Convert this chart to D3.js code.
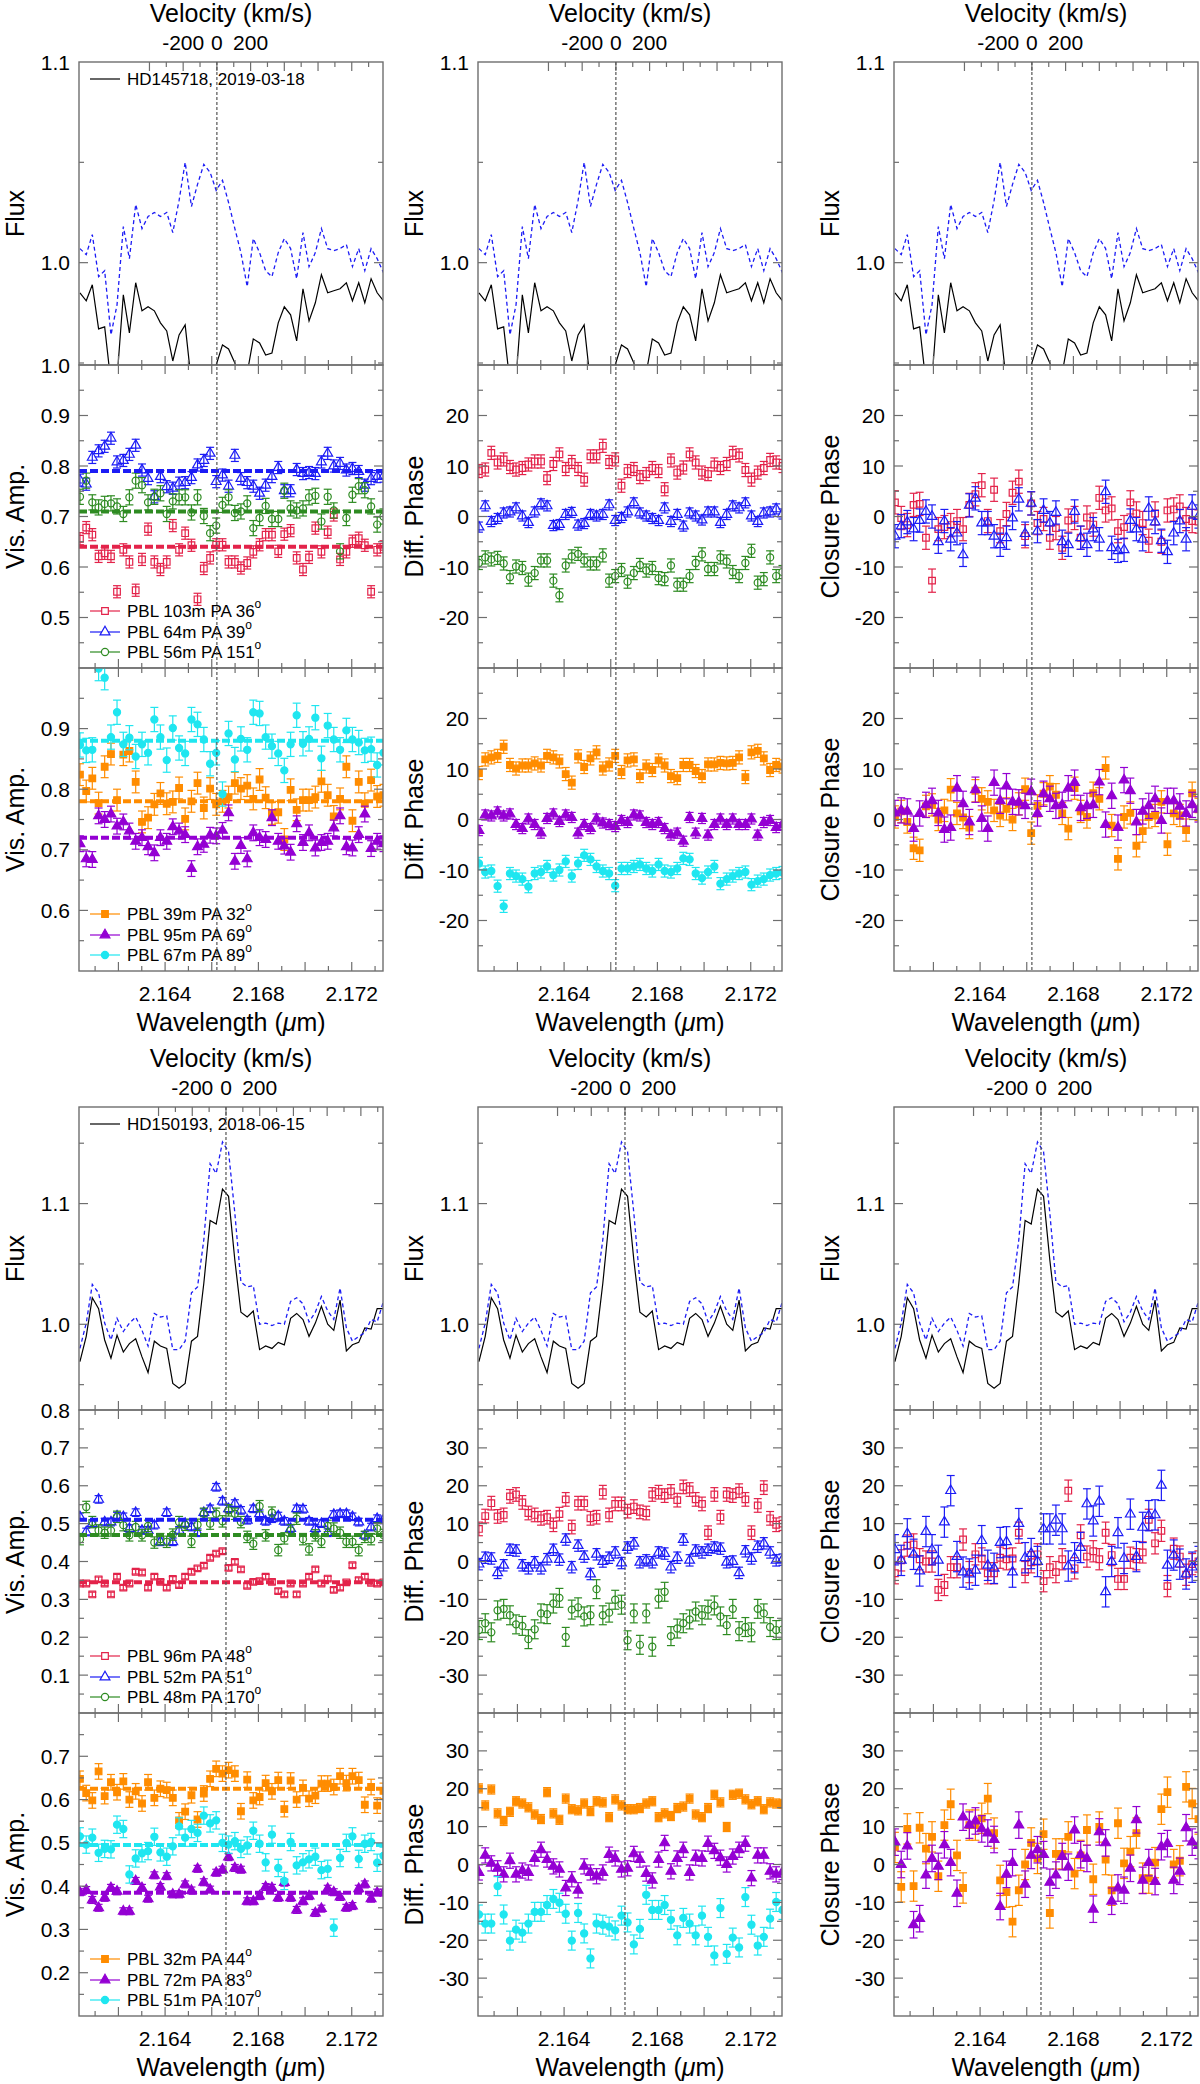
<!DOCTYPE html>
<html>
<head>
<meta charset="utf-8">
<script src="https://cdn.jsdelivr.net/npm/d3@7"></script>
<style>
  body { margin: 0; background: #fff; }
  svg { display: block; }
  text { font-family: Helvetica, "Liberation Sans", Arial, sans-serif; fill: #000; }
</style>
</head>
<body>
<svg id="chart" width="1200" height="2084"></svg>
<script>
'use strict';

// wavelength grid (micron), shared by both nights
const wavelength = [2.16035, 2.16062, 2.16088, 2.16115, 2.16141, 2.16168, 2.16194, 2.16221, 2.16247, 2.16274,
    2.16301, 2.16327, 2.16354, 2.16380, 2.16407, 2.16433, 2.16460, 2.16486, 2.16513, 2.16539,
    2.16566, 2.16593, 2.16619, 2.16646, 2.16672, 2.16699, 2.16725, 2.16752, 2.16778, 2.16805,
    2.16831, 2.16858, 2.16885, 2.16911, 2.16938, 2.16964, 2.16991, 2.17017, 2.17044, 2.17070,
    2.17097, 2.17123, 2.17150, 2.17177, 2.17203, 2.17230, 2.17256, 2.17283, 2.17309, 2.17336];

// ---- HD145718, 2019-03-18 ----
const fluxBlack1 = [0.985, 0.981, 0.989, 0.967, 0.968, 0.940, 0.942, 0.984, 0.965, 0.990,
    0.976, 0.978, 0.976, 0.970, 0.966, 0.951, 0.964, 0.969, 0.940, 0.920,
    0.920, 0.930, 0.949, 0.959, 0.957, 0.950, 0.940, 0.945, 0.962, 0.960,
    0.954, 0.955, 0.970, 0.978, 0.974, 0.961, 0.987, 0.971, 0.980, 0.994,
    0.985, 0.986, 0.987, 0.990, 0.981, 0.990, 0.980, 0.992, 0.985, 0.981];
const fluxBlue1 = [1.007, 1.004, 1.014, 0.993, 0.996, 0.964, 0.979, 1.018, 1.002, 1.029,
    1.017, 1.023, 1.025, 1.023, 1.025, 1.015, 1.031, 1.050, 1.028, 1.039,
    1.049, 1.045, 1.036, 1.041, 1.030, 1.017, 1.005, 0.988, 1.012, 1.005,
    0.996, 0.993, 1.005, 1.012, 1.007, 0.992, 1.015, 0.998, 1.005, 1.017,
    1.007, 1.006, 1.007, 1.009, 0.998, 1.007, 0.996, 1.007, 1.002, 0.995];

const visRed1 = [0.656, 0.678, 0.664, 0.621, 0.627, 0.621, 0.551, 0.634, 0.610, 0.554,
    0.615, 0.675, 0.610, 0.595, 0.610, 0.682, 0.634, 0.667, 0.643, 0.536,
    0.597, 0.618, 0.644, 0.644, 0.610, 0.610, 0.598, 0.608, 0.630, 0.644,
    0.664, 0.664, 0.631, 0.665, 0.672, 0.618, 0.595, 0.619, 0.677, 0.630,
    0.669, 0.703, 0.615, 0.630, 0.651, 0.657, 0.643, 0.551, 0.634, 0.640];
const visBlue1 = [0.772, 0.764, 0.817, 0.830, 0.839, 0.855, 0.808, 0.811, 0.823, 0.841,
    0.792, 0.775, 0.739, 0.779, 0.759, 0.756, 0.766, 0.767, 0.777, 0.802,
    0.811, 0.825, 0.769, 0.782, 0.760, 0.821, 0.775, 0.767, 0.760, 0.746,
    0.762, 0.779, 0.797, 0.751, 0.751, 0.793, 0.785, 0.787, 0.785, 0.808,
    0.825, 0.800, 0.805, 0.792, 0.795, 0.789, 0.762, 0.775, 0.779, 0.780];
const visGreen1 = [0.739, 0.771, 0.728, 0.718, 0.725, 0.726, 0.720, 0.705, 0.738, 0.771,
    0.762, 0.728, 0.739, 0.746, 0.705, 0.730, 0.738, 0.738, 0.708, 0.738,
    0.701, 0.667, 0.682, 0.723, 0.738, 0.707, 0.710, 0.726, 0.677, 0.697,
    0.721, 0.695, 0.695, 0.751, 0.716, 0.712, 0.716, 0.738, 0.741, 0.690,
    0.739, 0.712, 0.631, 0.697, 0.743, 0.760, 0.752, 0.720, 0.684, 0.700];
const visOrange1 = [0.824, 0.797, 0.818, 0.777, 0.837, 0.858, 0.782, 0.857, 0.863, 0.812,
    0.746, 0.753, 0.775, 0.793, 0.776, 0.779, 0.802, 0.751, 0.780, 0.810,
    0.769, 0.801, 0.775, 0.780, 0.787, 0.810, 0.801, 0.806, 0.784, 0.816,
    0.786, 0.760, 0.762, 0.717, 0.799, 0.766, 0.782, 0.782, 0.787, 0.813,
    0.790, 0.755, 0.784, 0.837, 0.748, 0.812, 0.776, 0.815, 0.788, 0.790];
const visPurple1 = [0.710, 0.685, 0.684, 0.756, 0.750, 0.759, 0.739, 0.746, 0.731, 0.714,
    0.720, 0.705, 0.695, 0.720, 0.714, 0.738, 0.731, 0.725, 0.669, 0.705,
    0.709, 0.724, 0.723, 0.732, 0.761, 0.681, 0.707, 0.685, 0.728, 0.720,
    0.717, 0.753, 0.714, 0.706, 0.696, 0.743, 0.712, 0.728, 0.703, 0.712,
    0.714, 0.736, 0.756, 0.705, 0.703, 0.725, 0.759, 0.702, 0.714, 0.710];
const visCyan1 = [0.873, 0.864, 0.865, 0.999, 0.984, 0.886, 0.927, 0.874, 0.885, 0.854,
    0.874, 0.860, 0.915, 0.886, 0.848, 0.901, 0.868, 0.859, 0.915, 0.907,
    0.882, 0.842, 0.860, 0.792, 0.892, 0.849, 0.883, 0.865, 0.927, 0.925,
    0.886, 0.871, 0.859, 0.831, 0.874, 0.922, 0.875, 0.883, 0.918, 0.851,
    0.905, 0.882, 0.865, 0.897, 0.882, 0.877, 0.864, 0.866, 0.840, 0.860];

const dphiRed1 = [9.0, 9.3, 12.6, 10.7, 11.3, 9.8, 9.3, 9.6, 10.3, 10.9,
    10.9, 7.6, 10.4, 12.3, 9.4, 10.8, 9.4, 7.3, 11.9, 11.9,
    14.0, 10.8, 11.3, 6.1, 9.0, 9.4, 7.8, 8.4, 9.6, 9.0,
    5.4, 11.1, 8.7, 9.7, 12.3, 10.7, 8.7, 8.4, 10.3, 9.6,
    10.4, 12.6, 12.1, 9.2, 7.3, 8.7, 9.6, 11.2, 10.7, 10.0];
const dphiBlue1 = [-2.1, 2.1, -1.0, -0.4, 0.7, 0.9, 1.7, 0.1, -1.2, 0.9,
    2.5, 2.1, -1.8, -1.6, 0.4, 0.8, -1.7, -1.4, 0.4, 0.1,
    0.4, 2.3, -0.8, -0.2, 0.9, 2.7, 0.7, 0.1, -0.4, -0.8,
    1.7, -1.0, 0.4, -1.9, 0.7, 0.1, -0.7, 0.9, 0.9, -1.2,
    0.4, 2.1, 1.7, 2.7, 0.1, -1.0, 0.7, 0.9, 1.5, 0.5];
const dphiGreen1 = [-9.2, -8.1, -8.5, -8.2, -9.3, -12.0, -9.9, -10.2, -12.5, -11.2,
    -8.7, -8.7, -12.7, -15.6, -9.7, -7.9, -7.4, -8.7, -9.3, -9.3,
    -7.7, -12.7, -11.8, -10.6, -12.9, -11.2, -9.6, -10.7, -10.2, -12.2,
    -12.4, -9.7, -13.5, -13.5, -11.8, -9.2, -7.5, -10.4, -10.4, -8.1,
    -8.9, -11.0, -11.8, -9.2, -6.8, -13.1, -12.4, -8.1, -11.8, -11.0];
const dphiOrange1 = [9.2, 11.9, 12.3, 12.6, 14.4, 10.8, 10.1, 10.7, 10.7, 11.1,
    10.7, 12.6, 12.3, 11.5, 9.0, 7.3, 12.5, 10.4, 12.1, 13.3,
    10.1, 10.9, 12.6, 9.4, 11.7, 11.9, 8.6, 10.5, 9.8, 11.7,
    10.7, 8.6, 8.2, 10.8, 10.8, 9.6, 8.6, 10.9, 10.9, 11.2,
    11.1, 11.2, 12.3, 8.4, 13.3, 13.6, 12.1, 9.8, 10.8, 10.5];
const dphiPurple1 = [-2.2, 0.9, 0.7, 1.5, 0.7, 1.1, -1.0, -1.8, 0.1, -1.0,
    -2.7, 0.2, 1.1, -0.4, 0.9, 0.4, -2.7, -1.0, -1.8, 0.1,
    -0.7, -1.0, -1.4, -0.2, -0.6, 0.9, 0.7, -0.6, -1.0, -0.6,
    -1.8, -3.1, -2.7, -4.3, 0.4, -2.7, 0.2, -3.1, -1.0, 0.1,
    -1.0, 0.1, -1.0, -1.0, 0.1, -3.1, -0.6, -0.2, -1.6, -1.0];
const dphiCyan1 = [-8.7, -10.4, -10.2, -13.2, -17.2, -10.7, -11.2, -11.8, -13.3, -10.7,
    -10.4, -9.3, -11.0, -10.0, -8.3, -11.2, -8.7, -7.1, -7.9, -9.3,
    -10.2, -10.7, -13.1, -9.7, -9.7, -9.3, -8.9, -9.7, -10.2, -8.9,
    -10.2, -10.4, -9.7, -7.7, -7.9, -10.7, -11.6, -10.4, -9.3, -12.7,
    -11.8, -11.2, -10.7, -10.4, -12.9, -12.2, -11.8, -11.0, -10.7, -10.5];

const cphiRed1 = [2.8, -0.3, -1.7, 2.3, 2.5, -4.2, -12.7, -2.5, -2.1, -1.7,
    -0.9, -2.5, 2.3, 4.4, 6.2, -0.9, 5.3, -2.9, 0.5, 4.7,
    6.9, -3.9, 2.6, -1.3, -0.5, -4.2, -2.3, -6.2, -0.8, -0.3,
    -4.2, -0.2, -1.6, 3.7, 1.2, 1.6, -2.9, -2.1, 2.8, 0.6,
    -1.3, -4.8, 0.6, -5.0, 1.2, 1.4, 2.0, -0.5, -0.9, -1.0];
const cphiBlue1 = [-3.9, -1.9, -1.1, -2.5, -0.8, 1.0, 0.0, -5.0, -0.9, -4.5,
    -3.3, -7.6, 2.2, 3.6, -1.3, -1.3, -3.9, -5.6, -4.2, -0.3,
    3.4, -3.4, 2.6, -2.9, 1.2, -1.3, 0.8, -5.0, -5.6, 1.0,
    -4.2, -5.6, -2.5, -4.5, 4.9, -6.2, -6.8, -6.6, -0.8, -2.5,
    -4.5, 1.6, -1.1, -4.8, -7.0, -3.3, -0.9, -4.5, 2.0, 0.0];
const cphiOrange1 = [0.5, 1.6, -0.5, -5.7, -6.1, 2.6, 2.9, 0.0, 1.8, 5.9,
    1.2, 0.4, -1.6, 5.7, 4.1, 3.5, 1.8, 0.8, 2.1, 0.0,
    3.1, 6.0, -2.7, 2.7, 5.1, 6.5, 4.9, 1.2, -1.8, 6.2,
    1.6, 0.5, 5.2, 4.1, 10.2, -1.2, -7.8, 0.5, 1.3, -5.2,
    -2.3, 0.5, 0.8, 3.5, -4.9, 1.2, 0.8, -2.1, 5.2, 2.0];
const cphiPurple1 = [1.3, 1.8, 1.6, -1.8, 1.2, 2.9, 3.7, 1.3, -2.0, -1.6,
    6.2, 3.1, -0.5, 5.9, 0.2, -1.8, 7.3, 3.7, 6.6, 3.5,
    3.4, 2.7, 5.5, 1.2, 5.1, 4.1, 2.7, 2.9, 6.2, 7.3,
    2.3, 2.7, 2.9, 7.4, -1.0, 4.7, -1.6, 7.8, 5.7, -0.5,
    1.6, 2.7, 4.1, -0.2, 3.7, 3.7, 2.6, 1.2, 2.9, 2.0];

// ---- HD150193, 2018-06-15 ----
const fluxBlack2 = [0.969, 0.990, 1.022, 1.013, 0.987, 0.972, 0.991, 0.977, 0.984, 0.988,
    0.973, 0.960, 0.986, 0.982, 0.980, 0.951, 0.947, 0.951, 0.986, 0.990,
    1.034, 1.086, 1.083, 1.112, 1.106, 1.053, 1.010, 1.006, 1.011, 0.979,
    0.982, 0.980, 0.985, 0.983, 1.005, 1.009, 1.004, 0.990, 1.001, 1.015,
    1.000, 0.995, 1.020, 0.978, 0.983, 0.985, 0.997, 0.996, 1.013, 1.013];
const fluxBlue2 = [0.980, 1.001, 1.033, 1.026, 1.001, 0.987, 1.005, 0.994, 1.001, 1.006,
    0.995, 0.982, 1.009, 1.006, 1.007, 0.979, 0.979, 0.986, 1.026, 1.031,
    1.070, 1.133, 1.125, 1.151, 1.143, 1.092, 1.035, 1.031, 1.032, 1.000,
    1.001, 0.999, 1.001, 1.000, 1.019, 1.022, 1.017, 1.002, 1.010, 1.023,
    1.011, 1.004, 1.030, 0.997, 0.986, 0.990, 0.993, 1.004, 1.002, 1.019];

const visRed2 = [0.342, 0.342, 0.313, 0.353, 0.342, 0.313, 0.360, 0.331, 0.342, 0.373,
    0.371, 0.331, 0.360, 0.346, 0.331, 0.354, 0.338, 0.360, 0.373, 0.382,
    0.389, 0.410, 0.421, 0.427, 0.383, 0.399, 0.379, 0.336, 0.346, 0.348,
    0.360, 0.346, 0.322, 0.313, 0.342, 0.313, 0.342, 0.360, 0.379, 0.342,
    0.355, 0.325, 0.331, 0.345, 0.390, 0.351, 0.360, 0.344, 0.342, 0.345];
const visBlue2 = [0.518, 0.478, 0.500, 0.564, 0.504, 0.504, 0.520, 0.518, 0.487, 0.529,
    0.482, 0.482, 0.496, 0.452, 0.529, 0.452, 0.482, 0.500, 0.491, 0.476,
    0.529, 0.539, 0.596, 0.559, 0.539, 0.553, 0.535, 0.509, 0.539, 0.526,
    0.506, 0.513, 0.520, 0.506, 0.487, 0.539, 0.538, 0.506, 0.487, 0.500,
    0.476, 0.524, 0.526, 0.526, 0.518, 0.504, 0.469, 0.491, 0.513, 0.510];
const visGreen2 = [0.459, 0.544, 0.504, 0.482, 0.476, 0.482, 0.518, 0.496, 0.469, 0.491,
    0.469, 0.494, 0.450, 0.459, 0.452, 0.471, 0.504, 0.497, 0.452, 0.497,
    0.526, 0.500, 0.526, 0.506, 0.535, 0.526, 0.504, 0.465, 0.447, 0.546,
    0.469, 0.529, 0.430, 0.461, 0.482, 0.513, 0.459, 0.432, 0.469, 0.452,
    0.494, 0.487, 0.476, 0.452, 0.452, 0.430, 0.465, 0.459, 0.487, 0.470];
const visOrange2 = [0.648, 0.615, 0.598, 0.665, 0.608, 0.640, 0.617, 0.642, 0.600, 0.619,
    0.591, 0.640, 0.604, 0.625, 0.622, 0.604, 0.552, 0.572, 0.610, 0.554,
    0.614, 0.648, 0.671, 0.660, 0.668, 0.660, 0.573, 0.646, 0.598, 0.606,
    0.638, 0.619, 0.645, 0.578, 0.644, 0.600, 0.627, 0.602, 0.609, 0.637,
    0.637, 0.629, 0.654, 0.638, 0.654, 0.645, 0.588, 0.629, 0.586, 0.620];
const visPurple2 = [0.386, 0.391, 0.368, 0.350, 0.373, 0.396, 0.388, 0.342, 0.342, 0.412,
    0.396, 0.371, 0.425, 0.398, 0.423, 0.381, 0.381, 0.404, 0.390, 0.440,
    0.409, 0.392, 0.431, 0.438, 0.467, 0.442, 0.438, 0.365, 0.365, 0.377,
    0.398, 0.396, 0.373, 0.408, 0.373, 0.345, 0.365, 0.377, 0.338, 0.348,
    0.394, 0.386, 0.375, 0.350, 0.354, 0.394, 0.404, 0.371, 0.385, 0.385];
const visCyan2 = [0.515, 0.496, 0.512, 0.477, 0.486, 0.485, 0.542, 0.532, 0.427, 0.464,
    0.476, 0.481, 0.514, 0.478, 0.468, 0.492, 0.538, 0.512, 0.532, 0.523,
    0.563, 0.545, 0.552, 0.500, 0.496, 0.504, 0.486, 0.494, 0.528, 0.498,
    0.455, 0.519, 0.442, 0.412, 0.502, 0.448, 0.455, 0.462, 0.468, 0.437,
    0.440, 0.304, 0.465, 0.500, 0.515, 0.463, 0.498, 0.502, 0.454, 0.470];

const dphiRed2 = [8.6, 12.0, 15.4, 11.9, 12.3, 17.2, 17.7, 15.6, 12.8, 12.3,
    11.4, 11.7, 9.7, 12.5, 16.4, 9.1, 15.4, 15.4, 11.4, 11.7,
    18.3, 12.3, 15.2, 15.2, 13.3, 14.5, 13.1, 12.8, 17.7, 18.3,
    17.4, 18.5, 16.2, 19.7, 19.0, 16.4, 15.2, 7.6, 17.7, 11.7,
    17.7, 17.4, 18.7, 16.4, 7.6, 14.8, 19.5, 11.4, 9.7, 10.0];
const dphiBlue2 = [-0.7, 1.0, 0.8, -3.0, -1.0, 3.1, 2.9, -1.0, -1.8, -0.2,
    -1.8, 0.6, 3.1, 0.5, 5.8, -1.5, 4.2, 1.3, -3.3, 1.9,
    0.0, 1.0, 2.4, -0.4, 3.7, 4.8, -0.2, 0.3, -0.2, 2.4,
    2.1, -1.5, 1.0, 5.8, 0.3, 2.9, 2.4, 3.1, 3.7, 3.4,
    -0.2, 0.0, -3.0, 2.7, 0.8, 3.9, 4.8, 2.4, 0.3, 0.5];
const dphiGreen2 = [-18.1, -16.3, -18.7, -12.9, -12.5, -14.2, -16.6, -17.0, -20.5, -17.9,
    -13.7, -13.9, -11.1, -9.6, -19.9, -12.7, -12.1, -14.5, -14.2, -7.3,
    -14.2, -13.5, -10.1, -11.4, -20.8, -13.7, -22.0, -13.7, -22.5, -9.8,
    -8.0, -19.7, -17.7, -16.3, -15.3, -13.2, -14.2, -12.7, -11.6, -14.5,
    -16.8, -12.5, -18.4, -17.3, -18.7, -12.5, -13.7, -17.3, -18.1, -18.0];
const dphiOrange2 = [20.1, 15.6, 19.8, 13.5, 11.5, 13.9, 16.7, 16.1, 15.1, 13.2,
    12.0, 19.1, 13.5, 11.8, 17.4, 14.6, 14.3, 16.1, 14.1, 16.7,
    16.4, 12.5, 17.2, 15.6, 14.6, 14.6, 14.9, 16.1, 16.7, 12.5,
    13.5, 12.8, 14.9, 15.3, 17.4, 13.2, 12.5, 14.9, 18.4, 16.4,
    9.9, 18.4, 18.7, 17.2, 15.9, 16.7, 14.6, 16.4, 16.1, 16.0];
const dphiPurple2 = [-2.1, 2.4, 0.3, -1.0, -2.6, 1.0, -2.6, -1.6, -2.1, 1.6,
    3.9, 1.3, -0.5, -1.3, -6.2, -3.9, -6.8, -0.5, -2.1, -3.1,
    -2.1, 2.6, 1.6, -1.3, -1.0, 2.8, 1.3, -2.4, -4.2, 1.3,
    5.7, -1.8, 1.6, 3.9, -2.1, 1.8, 1.6, 5.5, 3.6, 1.8,
    0.0, 2.1, 3.9, 5.5, -3.6, 2.4, 2.4, -1.8, -2.6, -2.0];
const dphiCyan2 = [-13.2, -15.6, -15.6, -5.7, -13.2, -20.1, -17.2, -18.0, -15.6, -12.5,
    -12.5, -10.7, -9.1, -10.1, -13.0, -20.1, -12.8, -18.2, -24.8, -15.6,
    -15.9, -16.4, -17.4, -13.5, -15.3, -21.1, -17.0, -8.0, -12.0, -12.0,
    -10.7, -14.6, -18.7, -14.1, -15.6, -18.7, -13.5, -19.1, -24.0, -11.5,
    -23.6, -19.3, -21.9, -8.6, -15.9, -21.4, -19.1, -14.3, -9.9, -12.0];

const cphiRed2 = [-3.1, 0.3, 4.2, 4.5, 0.6, 0.0, 0.0, -7.5, -6.2, -1.5,
    -1.5, 5.8, -2.8, 1.9, 0.8, -3.1, -3.1, 1.0, 0.6, 0.8,
    7.6, -2.8, -0.2, 1.9, -5.2, -1.5, -2.8, 0.6, 18.7, -1.8,
    6.9, 1.3, 2.7, 0.6, 7.6, 1.7, -4.6, -4.6, 1.0, 0.6,
    2.4, 11.0, 4.8, 8.1, -6.5, 3.4, 1.3, -3.5, -0.7, 0.0];
const cphiBlue2 = [3.1, 0.3, 7.3, 1.9, -2.5, 7.9, 3.1, 0.3, 10.4, 18.7,
    1.3, -2.8, -3.3, -2.3, 5.5, -1.0, -1.8, 5.0, 5.2, -2.8,
    10.0, 1.0, 2.1, 0.0, 8.6, 8.6, 10.9, 8.6, -1.2, 1.0,
    3.7, 15.2, 10.7, 15.9, -8.0, 0.0, 7.6, 0.8, 12.5, 1.3,
    9.0, 12.1, 12.3, 20.1, -1.0, 1.7, -0.7, -3.3, -1.5, 0.0];
const cphiOrange2 = [4.5, -5.9, 9.4, -5.7, 9.7, 4.2, 7.3, -3.1, 10.4, 15.9,
    2.4, -6.2, 10.4, 10.4, 12.2, 17.4, 8.3, -4.2, -7.3, -15.1,
    -6.8, 0.0, 5.7, 1.6, 8.0, -12.8, 2.8, 2.8, 7.3, -2.4,
    2.4, 9.1, -3.9, 9.9, 1.3, -6.8, 10.9, 0.3, 3.4, 8.3,
    -3.6, -3.6, 0.5, 14.6, 19.1, 0.0, 1.0, 20.5, 16.1, 12.0];
const cphiPurple2 = [5.9, 0.0, 4.9, -15.9, -14.3, -2.8, 1.6, -0.5, 5.2, 0.5,
    -7.6, 12.5, 10.4, 11.5, 9.4, 8.3, 6.6, -11.1, -2.6, 0.5,
    10.4, -5.2, 2.4, 3.9, 2.6, -4.7, -2.8, 2.1, -0.7, 9.1,
    2.6, 1.6, -11.8, 8.6, 5.7, -9.7, -6.2, -6.8, -1.0, 11.8,
    -4.2, 0.5, -4.5, 4.7, 5.5, -4.2, -1.8, 9.7, 5.9, 5.0];

// legend labels (degree sign is drawn as a superscript o)
const legendA1 = ['PBL 103m PA 36', 'PBL 64m PA 39', 'PBL 56m PA 151'];
const legendB1 = ['PBL 39m PA 32', 'PBL 95m PA 69', 'PBL 67m PA 89'];
const legendA2 = ['PBL 96m PA 48', 'PBL 52m PA 51', 'PBL 48m PA 170'];
const legendB2 = ['PBL 32m PA 44', 'PBL 72m PA 83', 'PBL 51m PA 107'];
const starLabels = ['HD145718, 2019-03-18', 'HD150193, 2018-06-15'];

// baseline-averaged visibility levels (dashed lines)
const meanVisA1 = [0.64, 0.79, 0.71];
const meanVisB1 = [0.78, 0.72, 0.88];
const meanVisA2 = [0.345, 0.51, 0.47];
const meanVisB2 = [0.625, 0.385, 0.495];

// line centres in each night (micron)
const lineCentre = [2.16622, 2.16661];

const xTickLabels = [2.164, 2.168, 2.172];
const velTickLabels = [-200, 0, 200];

// colours
const RED = '#e3234a', BLUE = '#1c1cf5', GREEN = '#2e8b22';
const ORANGE = '#ff8c00', PURPLE = '#9400d3', CYAN = '#1fe6f0';
const FRAME = '#6e6e6e';

const COL_X = [79, 478, 894];
const PANEL_W = 304, PANEL_H = 303;
const BLOCK_TOP = [62, 1107];
const C_KMS = 299792.458;

const svg = d3.select('#chart');
const x = d3.scaleLinear().domain([2.16031, 2.17334]).range([0, PANEL_W]);

let clipCount = 0;

function tickValues(domain, step) {
    const out = [];
    const start = Math.ceil(domain[0] / step - 1e-6);
    const end = Math.floor(domain[1] / step + 1e-6);
    for (let k = start; k <= end; k++) {
        out.push(+(k * step).toFixed(6));
    }
    return out;
}

function isMultiple(v, step) {
    return Math.abs(v / step - Math.round(v / step)) < 1e-6;
}

function fmtLabel(v, digits) {
    const s = Math.abs(v).toFixed(digits);
    return (v < 0 ? '-' : '') + s;
}

function symbolPath(shape, size) {
    const type = shape === 'square' ? d3.symbolSquare :
        shape === 'triangle' ? d3.symbolTriangle : d3.symbolCircle;
    return d3.symbol().type(type).size(size)();
}

const markerSize = { square: 44, triangle: 42, circle: 40 };

function drawPanel(cfg) {
    const g = svg.append('g').attr('transform', `translate(${cfg.left},${cfg.top})`);
    const y = d3.scaleLinear().domain(cfg.domain).range([PANEL_H, 0]);

    const clipId = 'clip' + (clipCount++);
    g.append('clipPath').attr('id', clipId)
        .append('rect').attr('width', PANEL_W).attr('height', PANEL_H);
    const plot = g.append('g').attr('clip-path', `url(#${clipId})`);

    // flux lines
    if (cfg.lines) {
        cfg.lines.forEach(function(ln) {
            const line = d3.line()
                .x((d, i) => x(wavelength[i]))
                .y(d => y(d));
            plot.append('path')
                .datum(ln.values)
                .attr('d', line)
                .attr('fill', 'none')
                .attr('stroke', ln.color)
                .attr('stroke-width', ln.width)
                .attr('stroke-dasharray', ln.dash || null);
        });
    }

    // data points with error bars
    if (cfg.series) {
        cfg.series.forEach(function(s) {
            const sg = plot.append('g');
            const pts = s.values.map((v, i) => ({ x: x(wavelength[i]), v: v }));
            sg.selectAll('line.err')
                .data(pts)
                .enter()
                .append('line')
                .attr('x1', d => d.x).attr('x2', d => d.x)
                .attr('y1', d => y(d.v - s.err)).attr('y2', d => y(d.v + s.err))
                .attr('stroke', s.color).attr('stroke-width', 1.2);
            [-1, 1].forEach(function(sign) {
                sg.selectAll(null)
                    .data(pts)
                    .enter()
                    .append('line')
                    .attr('x1', d => d.x - 4).attr('x2', d => d.x + 4)
                    .attr('y1', d => y(d.v + sign * s.err)).attr('y2', d => y(d.v + sign * s.err))
                    .attr('stroke', s.color).attr('stroke-width', 1.2);
            });
            sg.selectAll('path.mk')
                .data(pts)
                .enter()
                .append('path')
                .attr('d', symbolPath(s.shape, markerSize[s.shape]))
                .attr('transform', d => `translate(${d.x},${y(d.v)})`)
                .attr('fill', s.filled ? s.color : 'none')
                .attr('stroke', s.color)
                .attr('stroke-width', 1.2);
        });
        // mean levels
        cfg.series.forEach(function(s) {
            if (s.mean === undefined) return;
            plot.append('line')
                .attr('x1', 0).attr('x2', PANEL_W)
                .attr('y1', y(s.mean)).attr('y2', y(s.mean))
                .attr('stroke', s.color)
                .attr('stroke-width', 4)
                .attr('stroke-dasharray', '8,3');
        });
    }

    // frame
    g.append('rect')
        .attr('width', PANEL_W).attr('height', PANEL_H)
        .attr('fill', 'none').attr('stroke', FRAME).attr('stroke-width', 1.4);

    // x ticks on bottom and top (inward)
    tickValues([2.1605, 2.1733], 0.001).forEach(function(t) {
        if (t < x.domain()[0] || t > x.domain()[1]) return;
        const len = isMultiple(t, 0.002) ? 9 : 5;
        const px = x(t);
        g.append('line').attr('x1', px).attr('x2', px).attr('y1', PANEL_H).attr('y2', PANEL_H - len)
            .attr('stroke', FRAME).attr('stroke-width', 1.2);
        if (!cfg.velocityAxis) {
            g.append('line').attr('x1', px).attr('x2', px).attr('y1', 0).attr('y2', len)
                .attr('stroke', FRAME).attr('stroke-width', 1.2);
        }
    });

    // y ticks (left and right) and labels
    tickValues(cfg.domain, cfg.minor).forEach(function(t) {
        const len = isMultiple(t, cfg.major) ? 9 : 5;
        const py = y(t);
        if (py < 1 || py > PANEL_H - 1) return;
        g.append('line').attr('x1', 0).attr('x2', len).attr('y1', py).attr('y2', py)
            .attr('stroke', FRAME).attr('stroke-width', 1.2);
        g.append('line').attr('x1', PANEL_W).attr('x2', PANEL_W - len).attr('y1', py).attr('y2', py)
            .attr('stroke', FRAME).attr('stroke-width', 1.2);
    });
    cfg.labels.forEach(function(t) {
        g.append('text')
            .attr('x', -9).attr('y', y(t))
            .attr('text-anchor', 'end')
            .attr('dominant-baseline', 'central')
            .attr('font-size', 21)
            .text(fmtLabel(t, cfg.digits));
    });

    // y title
    g.append('text')
        .attr('transform', `translate(-64,${PANEL_H / 2}) rotate(-90)`)
        .attr('text-anchor', 'middle')
        .attr('dominant-baseline', 'central')
        .attr('font-size', 25)
        .text(cfg.title);

    // top velocity axis
    if (cfg.velocityAxis) {
        const lc = cfg.velocityAxis;
        g.append('text')
            .attr('x', PANEL_W / 2).attr('y', -49)
            .attr('text-anchor', 'middle').attr('dominant-baseline', 'central')
            .attr('font-size', 25)
            .text('Velocity (km/s)');
        [-400, -300, -200, -100, 0, 100, 200, 300, 400, 500, 600, 700, 800, 900].forEach(function(v) {
            const px = x(lc * (1 + v / C_KMS));
            if (px < 0 || px > PANEL_W) return;
            const len = v % 200 === 0 ? 9 : 5;
            g.append('line').attr('x1', px).attr('x2', px).attr('y1', 0).attr('y2', len)
                .attr('stroke', FRAME).attr('stroke-width', 1.2);
        });
        velTickLabels.forEach(function(v) {
            g.append('text')
                .attr('x', x(lc * (1 + v / C_KMS))).attr('y', -20)
                .attr('text-anchor', 'middle').attr('dominant-baseline', 'central')
                .attr('font-size', 21)
                .text(fmtLabel(v, 0));
        });
    }

    // bottom wavelength axis labels
    if (cfg.xLabels) {
        xTickLabels.forEach(function(t) {
            g.append('text')
                .attr('x', x(t)).attr('y', PANEL_H + 22)
                .attr('text-anchor', 'middle').attr('dominant-baseline', 'central')
                .attr('font-size', 21)
                .text(t.toFixed(3));
        });
        const wt = g.append('text')
            .attr('x', PANEL_W / 2).attr('y', PANEL_H + 51)
            .attr('text-anchor', 'middle').attr('dominant-baseline', 'central')
            .attr('font-size', 25);
        wt.append('tspan').text('Wavelength (');
        wt.append('tspan').attr('font-style', 'italic').text('\u03bc');
        wt.append('tspan').text('m)');
    }

    // legends
    if (cfg.legend) {
        const rows = [PANEL_H - 57, PANEL_H - 36, PANEL_H - 16];
        cfg.legend.forEach(function(label, i) {
            const s = cfg.series[i];
            const ry = rows[i];
            g.append('line').attr('x1', 11).attr('x2', 41).attr('y1', ry).attr('y2', ry)
                .attr('stroke', s.color).attr('stroke-width', 1.2);
            g.append('path')
                .attr('d', symbolPath(s.shape, markerSize[s.shape]))
                .attr('transform', `translate(26,${ry})`)
                .attr('fill', s.filled ? s.color : '#fff')
                .attr('stroke', s.color).attr('stroke-width', 1.2);
            const t = g.append('text')
                .attr('x', 48).attr('y', ry)
                .attr('dominant-baseline', 'central')
                .attr('font-size', 17);
            t.append('tspan').text(label);
            t.append('tspan').attr('font-size', 12).attr('dy', -7).text('o');
        });
    }
    if (cfg.fluxLegend) {
        g.append('line').attr('x1', 11).attr('x2', 41).attr('y1', 17).attr('y2', 17)
            .attr('stroke', '#000').attr('stroke-width', 1.2);
        g.append('text')
            .attr('x', 48).attr('y', 17)
            .attr('dominant-baseline', 'central')
            .attr('font-size', 17)
            .text(cfg.fluxLegend);
    }
}

function drawBlock(b, d) {
    const top = BLOCK_TOP[b];
    const rows = [top, top + PANEL_H, top + 2 * PANEL_H];
    const phaseDomain = b === 0 ? [-30, 30] : [-40, 40];
    const phaseLabels = b === 0 ? [-20, -10, 0, 10, 20] : [-30, -20, -10, 0, 10, 20, 30];

    COL_X.forEach(function(left, c) {
        drawPanel({
            left: left, top: rows[0],
            domain: d.fluxDomain, major: 0.1, minor: 0.05, digits: 1,
            labels: [1.0, 1.1], title: 'Flux',
            lines: [
                { values: d.fluxBlack, color: '#000', width: 1.2 },
                { values: d.fluxBlue, color: BLUE, width: 1.3, dash: '4,3' }
            ],
            velocityAxis: lineCentre[b],
            fluxLegend: c === 0 ? starLabels[b] : null
        });
    });

    // column 1: visibility amplitudes
    drawPanel({
        left: COL_X[0], top: rows[1],
        domain: d.visDomainA, major: 0.1, minor: 0.05, digits: 1,
        labels: d.visLabelsA, title: 'Vis. Amp.',
        series: [
            { values: d.visA[0], color: RED, shape: 'square', filled: false, err: d.visErrA[0], mean: d.meanA[0] },
            { values: d.visA[1], color: BLUE, shape: 'triangle', filled: false, err: d.visErrA[1], mean: d.meanA[1] },
            { values: d.visA[2], color: GREEN, shape: 'circle', filled: false, err: d.visErrA[2], mean: d.meanA[2] }
        ],
        legend: d.legendA
    });
    drawPanel({
        left: COL_X[0], top: rows[2],
        domain: d.visDomainB, major: 0.1, minor: 0.05, digits: 1,
        labels: d.visLabelsB, title: 'Vis. Amp.',
        series: [
            { values: d.visB[0], color: ORANGE, shape: 'square', filled: true, err: d.visErrB[0], mean: d.meanB[0] },
            { values: d.visB[1], color: PURPLE, shape: 'triangle', filled: true, err: d.visErrB[1], mean: d.meanB[1] },
            { values: d.visB[2], color: CYAN, shape: 'circle', filled: true, err: d.visErrB[2], mean: d.meanB[2] }
        ],
        legend: d.legendB,
        xLabels: true
    });

    // column 2: differential phases
    drawPanel({
        left: COL_X[1], top: rows[1],
        domain: phaseDomain, major: 10, minor: 5, digits: 0,
        labels: phaseLabels, title: 'Diff. Phase',
        series: [
            { values: d.dphiA[0], color: RED, shape: 'square', filled: false, err: d.dphiErr[0] },
            { values: d.dphiA[1], color: BLUE, shape: 'triangle', filled: false, err: d.dphiErr[1] },
            { values: d.dphiA[2], color: GREEN, shape: 'circle', filled: false, err: d.dphiErr[2] }
        ]
    });
    drawPanel({
        left: COL_X[1], top: rows[2],
        domain: phaseDomain, major: 10, minor: 5, digits: 0,
        labels: phaseLabels, title: 'Diff. Phase',
        series: [
            { values: d.dphiB[0], color: ORANGE, shape: 'square', filled: true, err: d.dphiErr[3] },
            { values: d.dphiB[1], color: PURPLE, shape: 'triangle', filled: true, err: d.dphiErr[4] },
            { values: d.dphiB[2], color: CYAN, shape: 'circle', filled: true, err: d.dphiErr[5] }
        ],
        xLabels: true
    });

    // column 3: closure phases
    drawPanel({
        left: COL_X[2], top: rows[1],
        domain: phaseDomain, major: 10, minor: 5, digits: 0,
        labels: phaseLabels, title: 'Closure Phase',
        series: [
            { values: d.cphiA[0], color: RED, shape: 'square', filled: false, err: d.cphiErr[0] },
            { values: d.cphiA[1], color: BLUE, shape: 'triangle', filled: false, err: d.cphiErr[1] }
        ]
    });
    drawPanel({
        left: COL_X[2], top: rows[2],
        domain: phaseDomain, major: 10, minor: 5, digits: 0,
        labels: phaseLabels, title: 'Closure Phase',
        series: [
            { values: d.cphiB[0], color: ORANGE, shape: 'square', filled: true, err: d.cphiErr[2] },
            { values: d.cphiB[1], color: PURPLE, shape: 'triangle', filled: true, err: d.cphiErr[3] }
        ],
        xLabels: true
    });

    // line-centre marker through each column
    COL_X.forEach(function(left) {
        const px = left + x(lineCentre[b]);
        svg.append('line')
            .attr('x1', px).attr('x2', px)
            .attr('y1', top).attr('y2', top + 3 * PANEL_H)
            .attr('stroke', '#555').attr('stroke-width', 1.2)
            .attr('stroke-dasharray', '3,2');
    });
}

drawBlock(0, {
    fluxDomain: [0.949, 1.1], fluxBlack: fluxBlack1, fluxBlue: fluxBlue1,
    visDomainA: [0.4, 1.0], visLabelsA: [0.5, 0.6, 0.7, 0.8, 0.9, 1.0],
    visDomainB: [0.5, 1.0], visLabelsB: [0.6, 0.7, 0.8, 0.9],
    visA: [visRed1, visBlue1, visGreen1], visErrA: [0.012, 0.012, 0.015], meanA: meanVisA1,
    visB: [visOrange1, visPurple1, visCyan1], visErrB: [0.018, 0.013, 0.02], meanB: meanVisB1,
    dphiA: [dphiRed1, dphiBlue1, dphiGreen1], dphiB: [dphiOrange1, dphiPurple1, dphiCyan1],
    dphiErr: [1.3, 1.0, 1.3, 1.3, 1.0, 1.2],
    cphiA: [cphiRed1, cphiBlue1], cphiB: [cphiOrange1, cphiPurple1],
    cphiErr: [2.3, 2.3, 2.2, 2.5],
    legendA: legendA1, legendB: legendB1
});

drawBlock(1, {
    fluxDomain: [0.929, 1.18], fluxBlack: fluxBlack2, fluxBlue: fluxBlue2,
    visDomainA: [0.0, 0.8], visLabelsA: [0.1, 0.2, 0.3, 0.4, 0.5, 0.6, 0.7, 0.8],
    visDomainB: [0.1, 0.8], visLabelsB: [0.2, 0.3, 0.4, 0.5, 0.6, 0.7],
    visA: [visRed2, visBlue2, visGreen2], visErrA: [0.006, 0.01, 0.015], meanA: meanVisA2,
    visB: [visOrange2, visPurple2, visCyan2], visErrB: [0.018, 0.008, 0.02], meanB: meanVisB2,
    dphiA: [dphiRed2, dphiBlue2, dphiGreen2], dphiB: [dphiOrange2, dphiPurple2, dphiCyan2],
    dphiErr: [1.8, 1.5, 2.5, 1.2, 2.0, 2.5],
    cphiA: [cphiRed2, cphiBlue2], cphiB: [cphiOrange2, cphiPurple2],
    cphiErr: [2.8, 4.0, 4.0, 3.5],
    legendA: legendA2, legendB: legendB2
});
</script>
</body>
</html>
